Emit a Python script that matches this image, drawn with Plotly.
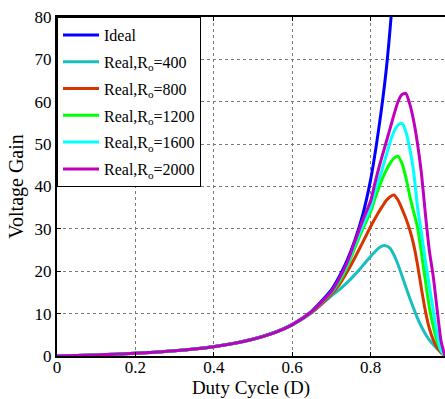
import plotly.graph_objects as go

# Duty cycle grid for the real (non-ideal) curves
duty = [0, 0.05, 0.1, 0.15, 0.2, 0.25, 0.3, 0.35, 0.4, 0.45, 0.5, 0.55, 0.6,
        0.65, 0.7, 0.72, 0.74, 0.76, 0.78,
        0.8, 0.81, 0.82, 0.83, 0.84, 0.85, 0.86, 0.87, 0.88, 0.89,
        0.9, 0.91, 0.92, 0.93, 0.94, 0.95, 0.96, 0.97, 0.98, 0.99]

low_part = [0, 0.11, 0.25, 0.41, 0.62, 0.88, 1.21, 1.64, 2.2, 2.94, 3.95, 5.35, 7.35]

gain_400 = low_part + [10.2, 14.2, 15.6, 17.3, 19.2, 21.3,
                       23.5, 24.5, 25.4, 26.0, 26.0, 25.4, 23.8, 21.6, 19.0, 16.3,
                       13.7, 11.2, 8.9, 6.9, 5.2, 3.8, 2.7, 1.7, 0.9, 0.0]
gain_800 = low_part + [10.3, 14.6, 16.8, 19.8, 23.2, 26.8,
                       30.5, 32.2, 33.8, 35.3, 36.7, 37.6, 38.0, 36.8, 34.8, 32.5,
                       29.8, 26.3, 21.5, 15.8, 10.6, 6.5, 3.8, 2.0, 0.8, 0.0]
gain_1200 = low_part + [10.5, 15.0, 17.5, 21.0, 25.5, 30.0,
                        34.0, 36.8, 39.4, 41.8, 43.8, 45.5, 46.7, 47.1, 45.5, 42.2,
                        37.8, 34.0, 30.3, 24.3, 17.8, 11.5, 7.0, 3.4, 1.2, 0.0]
gain_1600 = low_part + [10.5, 15.1, 18.0, 21.5, 26.3, 30.8,
                        35.0, 38.3, 41.3, 44.2, 47.3, 50.5, 53.0, 54.5, 54.9, 53.0,
                        49.0, 43.5, 35.0, 29.0, 22.5, 16.5, 10.9, 5.0, 1.3, 0.0]
gain_2000 = low_part + [10.5, 15.2, 18.2, 22.0, 27.0, 32.0,
                        36.5, 40.3, 44.0, 47.3, 50.5, 53.7, 57.0, 60.0, 61.7, 62.0,
                        59.5, 55.5, 50.0, 43.0, 33.5, 24.9, 18.8, 10.9, 3.5, 0.0]

duty_ideal = [0, 0.05, 0.1, 0.15, 0.2, 0.25, 0.3, 0.35, 0.4, 0.45, 0.5, 0.55, 0.6,
              0.65, 0.7, 0.72, 0.74, 0.76, 0.78, 0.8, 0.82, 0.84, 0.86, 0.87]
gain_ideal = [0, 0.11, 0.25, 0.42, 0.63, 0.89, 1.22, 1.66, 2.22, 2.98, 4.0, 5.43, 7.5,
              10.6, 15.6, 18.7, 22.5, 27.3, 33.3, 41.5, 53.0, 67.5, 89.0, 104.0]

x_ticks = [0, 0.2, 0.4, 0.6, 0.8]
x_tick_labels = ["0", "0.2", "0.4", "0.6", "0.8"]
y_ticks = [0, 10, 20, 30, 40, 50, 60, 70, 80]

names = ["Ideal", "Real,R<sub>o</sub>=400", "Real,R<sub>o</sub>=800",
         "Real,R<sub>o</sub>=1200", "Real,R<sub>o</sub>=1600", "Real,R<sub>o</sub>=2000"]
colors = ["#0000ff", "#19bfbf", "#d93300", "#00ff00", "#00ffff", "#bf00bf"]

fig = go.Figure()
series = [(duty_ideal, gain_ideal), (duty, gain_400), (duty, gain_800),
          (duty, gain_1200), (duty, gain_1600), (duty, gain_2000)]
for i, (nm, col, (xs, ys)) in enumerate(zip(names, colors, series)):
    fig.add_trace(go.Scatter(x=xs, y=ys, mode="lines", name=nm, legendgroup="g%d" % i,
                             line=dict(color=col, width=3, shape="spline", smoothing=0.6)))

font_family = "Liberation Serif, Times New Roman, serif"
fig.update_layout(
    width=445, height=399,
    margin=dict(l=57, r=0, t=17, b=43, autoexpand=False),
    paper_bgcolor="white", plot_bgcolor="white",
    font=dict(family=font_family, size=17, color="black"),
    showlegend=True,
    legend=dict(x=0, y=1, xanchor="left", yanchor="top",
                bgcolor="white", bordercolor="black", borderwidth=1,
                font=dict(family=font_family, size=16, color="black"),
                itemwidth=36, tracegroupgap=3),
    xaxis=dict(range=[0, 0.99], tickvals=x_ticks, ticktext=x_tick_labels,
               showgrid=True, gridcolor="#7a7a7a", griddash="dot", gridwidth=1,
               showline=True, linecolor="black", linewidth=2, mirror="ticks",
               ticks="inside", ticklen=4, tickcolor="black",
               ticklabelstandoff=-5,
               zeroline=False, automargin=False,
               title=dict(text="Duty Cycle (D)", font=dict(size=19), standoff=12)),
    yaxis=dict(range=[0, 80], tickvals=y_ticks,
               showgrid=True, gridcolor="#7a7a7a", griddash="dot", gridwidth=1,
               showline=True, linecolor="black", linewidth=2, mirror=False,
               ticks="inside", ticklen=4, tickcolor="black",
               zeroline=False, automargin=False,
               title=dict(text="Voltage Gain", font=dict(size=20), standoff=6)),
)

fig.write_html("out.html", config={"displayModeBar": False},
               post_script="document.body.style.margin='0px';")
